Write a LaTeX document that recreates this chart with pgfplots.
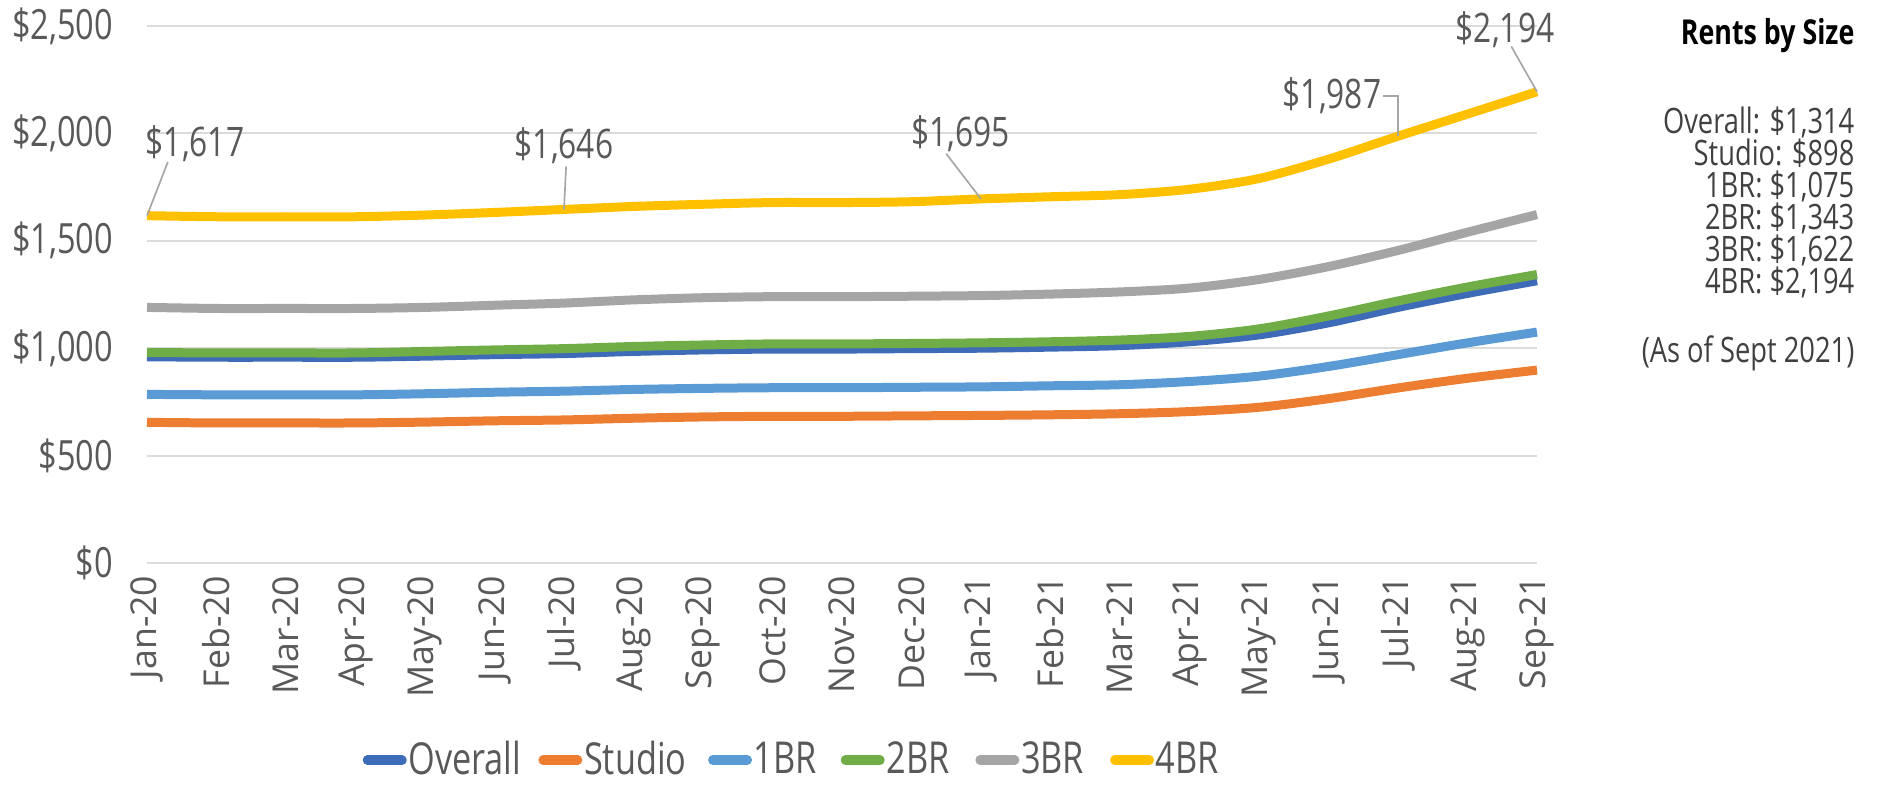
\documentclass[border=0pt]{standalone}
\usepackage{pgfplots}
\pgfplotsset{compat=1.18}
\usepackage{fontspec}
\setmainfont{Open Sans}
\newfontfamily\narrow[FakeStretch=0.78]{Open Sans}
\definecolor{cOverall}{HTML}{3E6BB8}
\definecolor{cStudio}{HTML}{ED7D31}
\definecolor{cOneBR}{HTML}{5B9BD5}
\definecolor{cTwoBR}{HTML}{70AD47}
\definecolor{cThreeBR}{HTML}{A5A5A5}
\definecolor{cFourBR}{HTML}{FFC000}
\definecolor{txt}{HTML}{595959}
\definecolor{leader}{HTML}{A6A6A6}
\pgfplotstableread{
x overall studio one two three four
0  960 655 785 980 1190 1617
1  958 652 783 978 1185 1612
2  958 652 783 978 1185 1612
3  958 652 783 978 1185 1612
4  963 656 788 985 1190 1620
5  970 662 795 992 1200 1632
6  975 666 800 998 1210 1646
7  985 674 808 1008 1225 1660
8  992 680 813 1015 1235 1670
9  996 683 816 1020 1240 1678
10 996 683 816 1020 1240 1678
11 998 685 818 1022 1242 1682
12 1000 687 820 1025 1245 1695
13 1005 690 825 1030 1252 1705
14 1012 695 830 1038 1262 1715
15 1030 705 845 1055 1280 1740
16 1062 725 870 1090 1320 1790
17 1118 765 915 1150 1380 1880
18 1190 815 970 1220 1455 1987
19 1255 860 1025 1285 1540 2090
20 1314 898 1075 1343 1622 2194
}\rents
\begin{document}
\begin{tikzpicture}
\path[use as bounding box] (0,0) rectangle (563.1pt,236.4pt);
\begin{axis}[
  at={(44.1pt,67.5pt)}, anchor=south west,
  scale only axis, width=417pt, height=161.1pt,
  xmin=0, xmax=20, ymin=0, ymax=2500,
  clip=false,
  axis line style={draw=none},
  tick style={draw=none},
  ymajorgrids,
  grid style={color=black!14, line width=0.6pt},
  ytick={0,500,1000,1500,2000,2500},
  yticklabels={{\$0},{\$500},{\$1,000},{\$1,500},{\$2,000},{\$2,500}},
  yticklabel style={anchor=east, inner sep=0pt, text=txt, font=\narrow\fontsize{12.5}{14}\selectfont},
  yticklabel shift=10pt,
  xtick={0,...,20},
  xticklabels={Jan-20,Feb-20,Mar-20,Apr-20,May-20,Jun-20,Jul-20,Aug-20,Sep-20,Oct-20,Nov-20,Dec-20,Jan-21,Feb-21,Mar-21,Apr-21,May-21,Jun-21,Jul-21,Aug-21,Sep-21},
  xticklabel style={rotate=90, anchor=east, inner sep=0pt, text=txt, font=\fontsize{10.7}{12}\selectfont},
  xticklabel shift=3.6pt,
  legend columns=6,
  legend style={at={(0.472,-0.367)}, anchor=center, draw=none, fill=none,
    font=\narrow\fontsize{13.2}{14}\selectfont, text=txt,
    nodes={inner xsep=0.5pt},
    /tikz/every even column/.append style={column sep=0pt},
    /tikz/every odd column/.append style={column sep=0pt}},
  legend image code/.code={\draw[#1,line width=2.8pt,line cap=round] (1.4pt,0pt) -- (11.8pt,0pt);},
  every axis plot/.append style={line width=2.7pt, smooth, no markers},
]
\addplot[cOverall] table[x=x,y=overall]{\rents};
\addlegendentry{\makebox[38.5pt][l]{Overall}}
\addplot[cStudio] table[x=x,y=studio]{\rents};
\addlegendentry{\makebox[36.7pt][l]{Studio}}
\addplot[cOneBR] table[x=x,y=one]{\rents};
\addlegendentry{\makebox[25.6pt][l]{1BR}}
\addplot[cTwoBR] table[x=x,y=two]{\rents};
\addlegendentry{\makebox[26.2pt][l]{2BR}}
\addplot[cThreeBR] table[x=x,y=three]{\rents};
\addlegendentry{\makebox[26.2pt][l]{3BR}}
\addplot[cFourBR] table[x=x,y=four]{\rents};
\addlegendentry{\makebox[25.8pt][l]{4BR}}
\tikzset{lead/.style={draw=leader, line width=0.5pt},
  call/.style={text=txt, inner sep=0pt, font=\narrow\fontsize{12.2}{14}\selectfont}}
\draw[lead] (axis cs:0.30,1867) -- (axis cs:0,1617);
\node[call] at (axis cs:0.69,1950) {\$1,617};
\draw[lead] (axis cs:6.03,1845) -- (axis cs:6,1646);
\node[call] at (axis cs:6.0,1941) {\$1,646};
\draw[lead] (axis cs:11.5,1905) -- (axis cs:12,1695);
\node[call] at (axis cs:11.71,1997) {\$1,695};
\draw[lead] (axis cs:17.78,2174) -- (axis cs:18,2174) -- (axis cs:18,1987);
\node[call] at (axis cs:17.05,2174) {\$1,987};
\draw[lead] (axis cs:19.63,2405) -- (axis cs:20,2194);
\node[call] at (axis cs:19.54,2481) {\$2,194};
\end{axis}
\node[anchor=east, inner sep=0pt, text=black, font=\narrow\bfseries\fontsize{10.3}{12}\selectfont] at (556.5pt,225.6pt) {Rents by Size};
\node[anchor=east, inner sep=0pt, align=right, text=black!75, font=\narrow\fontsize{10.5}{9.6}\selectfont] at (556.5pt,175.8pt)
  {Overall: \$1,314\\Studio: \$898\\1BR: \$1,075\\2BR: \$1,343\\3BR: \$1,622\\4BR: \$2,194};
\node[anchor=east, inner sep=0pt, text=black!75, font=\narrow\fontsize{10.5}{12}\selectfont] at (556.5pt,130.5pt) {(As of Sept 2021)};
\end{tikzpicture}
\end{document}
